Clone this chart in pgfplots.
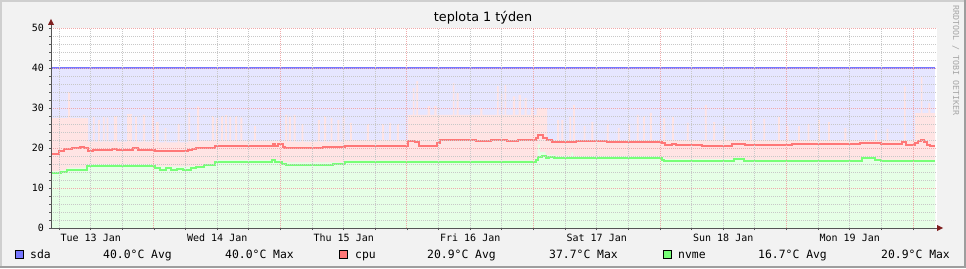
\documentclass[border=0pt]{standalone}
\usepackage{pgfplots}
\pgfplotsset{compat=1.18}
\usepackage{fontspec}
\setmainfont{DejaVu Sans}
\newfontfamily\mono{DejaVu Sans Mono}
\definecolor{bgc}{HTML}{F2F2F2}
\definecolor{shadeA}{HTML}{CFCFCF}
\definecolor{shadeB}{HTML}{9E9E9E}
\definecolor{mgrid}{RGB}{240,170,170}
\definecolor{ngrid}{RGB}{200,200,200}
\definecolor{axiscol}{HTML}{555555}
\definecolor{arrowcol}{HTML}{7F1F1F}
\definecolor{sdaline}{HTML}{7777FF}
\definecolor{sdaarea}{HTML}{E6E6FF}
\definecolor{cpuline}{HTML}{FF7777}
\definecolor{cpuarea}{HTML}{FFE4E4}
\definecolor{nvmeline}{HTML}{77FF77}
\definecolor{nvmearea}{HTML}{E6FFE6}
\newcommand\tickfont{\mono\fontsize{10}{10}\selectfont}
\newcommand\legfont{\mono\fontsize{11.4}{12}\selectfont}
\begin{document}
\begin{tikzpicture}[x=1pt,y=1pt]
\path[use as bounding box] (0,0) rectangle (966,268);
\fill[bgc] (0,0) rectangle (966,268);
\fill[shadeA] (0,266) rectangle (966,268);
\fill[shadeA] (0,0) rectangle (2,268);
\fill[shadeB] (0,0) rectangle (966,2);
\fill[shadeB] (964,0) rectangle (966,268);
\fill[white] (51,40) rectangle (936.5,240);
\begin{axis}[
  at={(51pt,40pt)}, anchor=south west,
  scale only axis, width=885.5pt, height=200pt,
  xmin=4.46, xmax=172.46, ymin=0, ymax=50,
  axis on top,
  axis line style={draw=none},
  xtick={12,36,60,84,108,132,156},
  xticklabels={Tue 13 Jan,Wed 14 Jan,Thu 15 Jan,Fri 16 Jan,Sat 17 Jan,Sun 18 Jan,Mon 19 Jan},
  minor xtick={6,12,...,168},
  extra x ticks={24,48,72,96,120,144,168},
  extra x tick labels={},
  extra x tick style={grid=major},
  ytick={0,10,20,30,40,50},
  yticklabels={0,10,20,30,40,50},
  minor ytick={2,4,...,48},
  xmajorgrids=false, xminorgrids=true,
  ymajorgrids=true, yminorgrids=true,
  major grid style={mgrid, line width=1pt, dash pattern=on 1pt off 1pt},
  minor grid style={ngrid, line width=1pt, dash pattern=on 1pt off 1pt},
  tick align=outside, major tick length=2pt, minor tick length=2pt,
  tick style={axiscol, line width=0.8pt},
  xtick pos=bottom, ytick pos=left,
  ticklabel style={font=\tickfont, inner sep=0pt},
  xticklabel style={anchor=base, yshift=-11.5pt},
  yticklabel style={anchor=east, xshift=-5pt},
]
% sda area
\addplot[fill=sdaarea, draw=none] coordinates {(4.46,40) (172.2,40)} \closedcycle;
% cpu max area
\addplot[const plot, fill=cpuarea, draw=none] coordinates {
(4.46,27.5) (7.7,34.0) (8.1,27.5) (11.5,21.6)
(12.4,27.8)(12.75,21.6)(13.4,27.0)(13.75,21.6)(14.3,27.8)(14.65,21.6)
(15.0,27.6)(15.35,21.6)(16.4,28.0)(17.0,21.6)(18.9,28.5)(19.8,21.6)
(20.4,27.8)(20.75,21.6)(21.9,28.3)(22.3,21.6)(23.6,28.0)(23.95,21.6)
(24.4,26.5)(24.9,21.4)(26.0,25.0)(26.35,21.4)(28.5,26.0)(28.85,21.4)
(30.5,28.8)(30.85,21.6)(32.2,30.4)(32.55,21.8)(35.0,28.0)(35.35,21.8)
(35.8,27.5)(36.15,21.8)(36.7,28.0)(37.05,21.8)(37.5,28.2)(37.85,21.8)
(38.3,27.8)(38.65,21.8)(39.4,28.0)(39.75,21.8)(40.4,27.6)(40.75,21.8)
(43.0,25.5)(43.35,21.8)(48.9,28.3)(49.25,21.6)(49.6,27.8)(49.95,21.6)
(50.5,28.3)(50.85,21.6)(52.0,26.0)(52.35,21.6)(55.1,27.0)(55.45,21.6)
(56.3,28.0)(56.65,21.6)(57.5,27.5)(57.85,21.6)(58.8,27.0)(59.15,21.6)
(59.8,28.0)(60.15,22.0)(61.2,26.3)(61.55,22.0)(64.4,26.0)(64.75,22.0)
(67.3,26.0)(67.65,22.0)(68.6,26.3)(68.95,22.0)(70.1,26.0)(70.45,22.0)
(72.1,28.3)(73.1,35.0)(73.4,28.3)(73.8,36.7)(74.1,28.3)
(75.9,30.5)(76.4,28.3)(77.2,30.5)(77.6,28.3)(80.7,36.2)(81.0,28.3)
(81.4,33.7)(81.8,28.3)(85.9,30.0)(86.3,28.3)(89.1,35.5)(89.4,28.3)
(89.8,33.5)(90.1,28.3)(90.5,35.8)(90.8,28.3)(92.1,32.9)(92.5,28.3)
(93.2,33.3)(93.6,28.3)(94.3,32.5)(94.7,28.3)(95.5,30.0)(95.9,28.3)
(96.6,30.0)(98.6,22.0)
(100.5,27.0)(100.85,22.0)(101.3,27.0)(101.65,22.0)(102.8,27.8)(103.15,22.0)
(103.5,30.8)(103.85,22.0)(105.5,25.5)(105.85,22.0)(107.0,26.5)(107.35,22.0)
(109.9,26.0)(110.25,22.0)(112.0,25.0)(112.35,22.0)(114.0,26.0)(114.35,22.0)
(115.6,28.3)(115.95,22.0)(116.8,28.0)(117.15,22.0)(118.1,28.8)(118.45,22.0)
(120.6,27.5)(120.95,22.0)(122.3,27.8)(122.65,22.0)(125.1,26.3)(125.45,22.0)
(128.5,30.8)(128.85,22.0)(130.1,26.5)(130.45,22.0)(132.0,25.5)(132.35,22.0)
(137.1,27.0)(137.45,22.0)(139.6,27.3)(139.95,22.0)(142.4,27.8)(142.75,22.0)
(144.0,25.5)(144.35,22.0)(146.2,25.5)(146.55,22.0)(148.0,26.0)(148.35,22.0)
(150.0,27.0)(150.35,22.0)(151.9,26.5)(152.25,22.0)(155.0,25.0)(155.35,22.0)
(160.8,24.5)(161.15,22.0)(163.0,24.8)(163.35,22.0)(166.3,35.4)(166.6,22.0)
(168.4,28.7)(169.5,37.7)(169.8,28.7)(170.9,31.2)(171.3,28.7)(172.2,28.7)
} \closedcycle;
% nvme max area
\addplot[const plot, fill=nvmearea, draw=none] coordinates {
(4.46,14.2)(6.3,14.5)(7.5,15.1)(11.3,16.0)(24.2,15.4)(31,15.5)(33.5,16.1)
(35.5,17.0)(48.3,16.4)(60.2,16.9)(96.4,17.4)(96.8,20.9)(97.2,19.0)(98.3,18.3)
(100,18.1)(103.2,18.9)(103.5,18.0)(120.3,17.5)(121,17.2)(134,17.6)(136,17.1)
(158.3,17.9)(160.8,17.1)(172.2,17.1)
} \closedcycle;
% sda line
\addplot[sdaline, line width=2pt] coordinates {(4.46,40) (172.2,40)};
% cpu avg line
\addplot[const plot, cpuline, line width=2pt] coordinates {
(4.46,18.6)(6.0,19.3)(7.0,19.7)(8.5,19.9)(10.0,20.2)(10.8,19.9)(11.5,19.3)
(12.5,19.6)(16.0,19.8)(17.0,19.6)(20.0,19.9)(21.0,19.6)(24.2,19.2)(30.4,19.5)
(31.2,19.8)(32.0,20.0)(35.5,20.4)(38.0,20.5)(40.0,20.4)(45.5,20.6)(46.5,20.9)
(47.0,20.6)(47.6,21.1)(48.4,20.2)(48.9,19.9)(53.9,20.1)(56.0,20.3)(59.0,20.2)
(60.2,20.4)(64.0,20.5)(68.0,20.4)(72.1,21.7)(73.6,21.4)(74.2,20.6)(75.0,20.4)
(76.0,20.6)(77.7,21.3)(78.2,21.9)(82.0,22.1)(85.0,21.8)(88.0,22.0)(91.0,21.8)
(93.0,22.0)(96.4,22.6)(96.8,23.2)(97.8,22.6)(98.5,21.9)(99.6,21.6)(104.0,21.7)
(110.0,21.6)(120.3,21.2)(121.0,20.8)(122.3,21.1)(123.0,20.7)(128.0,20.5)
(133.6,21.0)(136.1,20.8)(140.5,20.7)(145.0,20.9)(153.2,21.1)(158.0,21.2)
(162.0,21.0)(165.9,21.4)(166.6,20.7)(168.3,21.3)(169.0,21.8)(169.5,22.1)
(170.1,21.4)(170.7,20.8)(171.2,20.6)(172.2,20.6)
};
% nvme avg line
\addplot[const plot, nvmeline, line width=2pt] coordinates {
(4.46,13.7)(6.3,14.0)(7.5,14.6)(11.3,15.6)(24.2,15.0)(25.2,14.6)(26.3,14.9)
(27.3,14.5)(28.3,14.8)(29.5,14.6)(31.0,15.0)(32.0,15.3)(33.5,15.7)(35.5,16.5)
(46.3,16.9)(46.9,16.6)(48.3,16.0)(49.0,15.7)(58.0,15.9)(60.2,16.5)(96.4,17.0)
(96.9,17.7)(97.6,18.0)(98.3,17.6)(99.0,17.8)(99.8,17.5)(104.0,17.6)(120.3,17.1)
(120.8,16.7)(121.5,16.8)(134.0,17.2)(136.0,16.7)(158.3,17.5)(160.8,16.9)
(162,16.7)(172.2,16.7)
};
\end{axis}
% axis lines with arrows
\draw[axiscol, line width=1pt] (51,40) -- (51,244);
\fill[arrowcol] (48,243) -- (54,243) -- (51,249) -- cycle;
\draw[axiscol, line width=1pt] (51,40) -- (938,40);
\fill[arrowcol] (937,37) -- (937,43) -- (943,40) -- cycle;
% title
\node[font=\fontsize{12.8}{13}\selectfont, anchor=base, inner sep=0pt] at (483,246) {teplota 1 týden};
% watermark
\node[font=\mono\fontsize{8.3}{8.3}\selectfont, text=black!35, rotate=-90, anchor=base west, inner sep=0pt] at (953,263) {RRDTOOL / TOBI OETIKER};
% legend
\fill[sdaline] (15,10) rectangle (23,18); \draw[black, line width=0.8pt] (15,10) rectangle (23,18);
\fill[cpuline] (339,10) rectangle (347,18); \draw[black, line width=0.8pt] (339,10) rectangle (347,18);
\fill[nvmeline] (663,10) rectangle (671,18); \draw[black, line width=0.8pt] (663,10) rectangle (671,18);
\begin{scope}[every node/.style={font=\legfont, anchor=base west, inner sep=0pt}]
\node at (30,10) {sda};
\node at (103,10) {40.0°C Avg};
\node at (225,10) {40.0°C Max};
\node at (355,10) {cpu};
\node at (427,10) {20.9°C Avg};
\node at (549,10) {37.7°C Max};
\node at (678,10) {nvme};
\node at (758,10) {16.7°C Avg};
\node at (881,10) {20.9°C Max};
\end{scope}
\end{tikzpicture}
\end{document}
